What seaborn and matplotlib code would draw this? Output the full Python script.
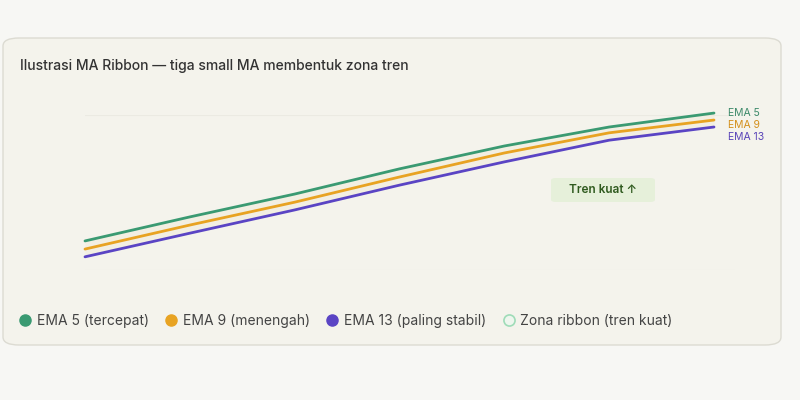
import numpy as np
import pandas as pd
import matplotlib
matplotlib.use("Agg")
import matplotlib.pyplot as plt
from matplotlib.patches import FancyBboxPatch
from matplotlib.lines import Line2D
import seaborn as sns

# ---- data ----
periods = [0, 1, 2, 3, 4, 5, 6]
ema5 = [107.5, 113.7, 119.6, 126.1, 132.0, 136.9, 140.5]
ema9 = [105.4, 111.6, 117.5, 124.0, 130.2, 135.4, 138.7]
ema13 = [103.4, 109.5, 115.5, 121.9, 127.9, 133.5, 136.9]
series_names = ["EMA 5", "EMA 9", "EMA 13"]
legend_labels = ["EMA 5 (tercepat)", "EMA 9 (menengah)", "EMA 13 (paling stabil)", "Zona ribbon (tren kuat)"]
title = "Ilustrasi MA Ribbon — tiga small MA membentuk zona tren"
badge_text = "Tren kuat ↑"

colors = {"EMA 5": "#3a9a72", "EMA 9": "#e8a322", "EMA 13": "#5a44c4"}
label_colors = {"EMA 5": "#3d8a6a", "EMA 9": "#d4901c", "EMA 13": "#5a44b8"}

df = pd.DataFrame({
    "t": periods * 3,
    "v": ema5 + ema9 + ema13,
    "s": ["EMA 5"] * 7 + ["EMA 9"] * 7 + ["EMA 13"] * 7,
})

sns.set_theme(style="white")
plt.rcParams["font.family"] = ["Inter", "DejaVu Sans"]

W, H = 800, 400
fig = plt.figure(figsize=(8, 4), dpi=100)
fig.patch.set_facecolor("#f7f7f4")

card = FancyBboxPatch((3 / W, 1 - 345 / H), 778 / W, 307 / H,
                      boxstyle="round,pad=0,rounding_size=0.02",
                      transform=fig.transFigure, facecolor="#f4f3ec",
                      edgecolor="#dcdbd2", linewidth=1.0, zorder=-5)
fig.patches.append(card)

fig.text(20 / W, 1 - 66 / H, title, fontsize=10, color="#333333",
         fontweight="medium", va="center", ha="left")

ax = fig.add_axes([85 / W, 1 - 270 / H, 650 / W, 155 / H])
ax.set_zorder(1)
ax.set_facecolor("none")
ax.set_xlim(0, 6 * 650 / 629)
ax.set_ylim(100, 140)

ax.fill_between(periods, ema13, ema5, color="#f0e9d2", alpha=0.35, lw=0, zorder=1)

sns.lineplot(data=df, x="t", y="v", hue="s", palette=colors, ax=ax,
             linewidth=2.0, legend=False, zorder=3)
for ln in ax.lines:
    ln.set_clip_on(False)

for yv in (100, 140):
    ax.axhline(yv, color="#ebeae2", lw=0.8, zorder=0)

for sp in ax.spines.values():
    sp.set_visible(False)
ax.set_xticks([])
ax.set_yticks([])
ax.set_xlabel("")
ax.set_ylabel("")

# end labels
for name, ypx in zip(series_names, [113, 125, 137]):
    fig.text(728 / W, 1 - ypx / H, name, fontsize=7.5, color=label_colors[name],
             va="center", ha="left", zorder=3)

# badge
badge = FancyBboxPatch((551 / W, 1 - 202 / H), 104 / W, 24 / H,
                       boxstyle="round,pad=0,rounding_size=0.006",
                       transform=fig.transFigure, facecolor="#e6f0da",
                       edgecolor="none", zorder=2)
fig.patches.append(badge)
fig.text(603 / W, 1 - 190 / H, badge_text, fontsize=8.5, color="#2f5a1e",
         fontweight="semibold", va="center", ha="center", zorder=3)

# legend
handles = [
    Line2D([], [], marker="o", ls="", markersize=8, markerfacecolor=colors["EMA 5"], markeredgecolor=colors["EMA 5"]),
    Line2D([], [], marker="o", ls="", markersize=8, markerfacecolor=colors["EMA 9"], markeredgecolor=colors["EMA 9"]),
    Line2D([], [], marker="o", ls="", markersize=8, markerfacecolor=colors["EMA 13"], markeredgecolor=colors["EMA 13"]),
    Line2D([], [], marker="o", ls="", markersize=8, markerfacecolor="#eef6ee", markeredgecolor="#9fdcb8", markeredgewidth=1.2),
]
leg = fig.legend(handles, legend_labels, loc="center left",
                 bbox_to_anchor=(7 / W, 1 - 321 / H), ncol=4, frameon=False,
                 fontsize=10, handlelength=0.8, handletextpad=0.45,
                 columnspacing=1.2, labelcolor="#444444")

fig.savefig("out.png", dpi=100, facecolor=fig.get_facecolor())
